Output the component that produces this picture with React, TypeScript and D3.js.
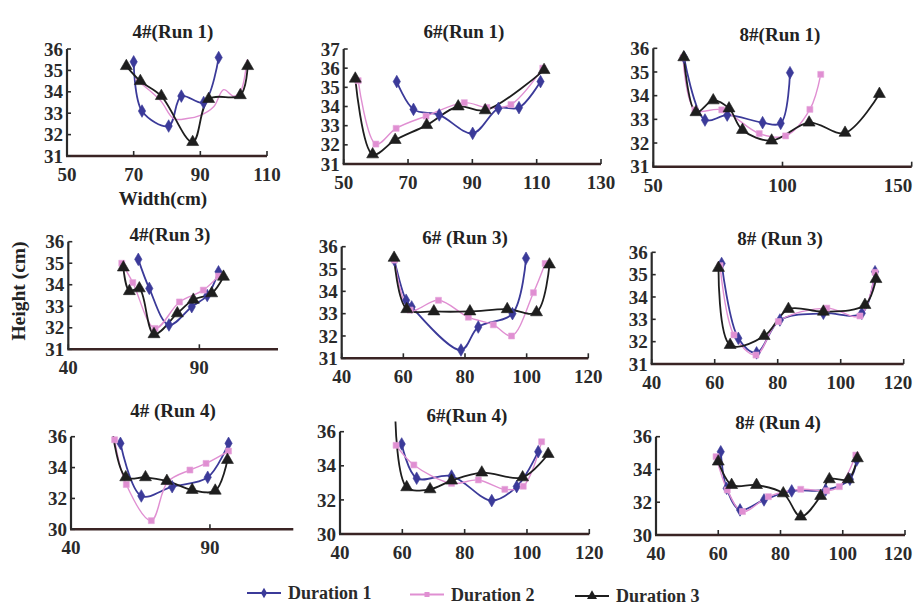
import React from "react";
import * as d3 from "d3";

type Pt = [number, number];

// ---- data: [width (cm), height (cm)] ----
const r1_4_d1: Pt[] = [[70, 35.4], [72.5, 33.1], [80.5, 32.4], [84.3, 33.8], [91, 33.5], [95.5, 35.6]];
const r1_4_d2: Pt[] = [[70.5, 34.6], [78, 33.6], [82, 32.75], [86, 32.75], [90, 32.9], [94, 33.3], [97, 34.1], [100, 33.8], [102, 34.0], [104, 35.5]];
const r1_4_d3: Pt[] = [[67.8, 35.2], [72, 34.5], [78.3, 33.8], [87.7, 31.65], [92.5, 33.66], [102, 33.84], [104.2, 35.2]];

const r1_6_d1: Pt[] = [[66.5, 35.3], [71.7, 33.85], [79.7, 33.56], [90.1, 32.6], [98.1, 33.9], [104.5, 33.94], [111.2, 35.3]];
const r1_6_d2: Pt[] = [[54.5, 35.35], [60, 32.04], [66.3, 32.86], [75.6, 33.5], [87.5, 34.2], [94.5, 33.95], [102, 34.1], [111.9, 36.0]];
const r1_6_d3: Pt[] = [[53.6, 35.45], [59, 31.5], [66, 32.25], [75.8, 33.03], [85.6, 34.0], [94, 33.8], [112.3, 35.9]];

const r1_8_d1: Pt[] = [[61.9, 35.62], [70, 32.97], [78.6, 33.18], [92.3, 32.86], [99.3, 32.83], [102.9, 34.97]];
const r1_8_d2: Pt[] = [[61.5, 35.6], [66.1, 33.4], [76.5, 33.4], [91, 32.4], [101.2, 32.3], [110.6, 33.42], [114.8, 34.9]];
const r1_8_d3: Pt[] = [[61.8, 35.62], [66.5, 33.3], [73.2, 33.8], [79.3, 33.46], [84.5, 32.55], [95.8, 32.1], [110.3, 32.86], [124.2, 32.43], [137.5, 34.07]];

const r3_4_d1: Pt[] = [[66.7, 35.18], [70.9, 33.83], [78.4, 32.13], [87.1, 32.98], [93, 33.5], [97.3, 34.6]];
const r3_4_d2: Pt[] = [[60.4, 35.0], [64.6, 34.1], [73.1, 31.97], [82.4, 33.2], [91.5, 33.75], [97.3, 34.4]];
const r3_4_d3: Pt[] = [[61, 34.8], [63.3, 33.7], [67.1, 33.83], [72.7, 31.7], [81.6, 32.67], [87.7, 33.3], [94.7, 33.6], [99.2, 34.37]];

const r3_6_d1: Pt[] = [[57.1, 35.4], [60.9, 33.6], [62.7, 33.3], [78.7, 31.37], [84.3, 32.4], [95.4, 33.0], [99.8, 35.48]];
const r3_6_d2: Pt[] = [[57.1, 35.4], [62.2, 33.16], [71.4, 33.6], [81.1, 32.84], [89.2, 32.5], [95.1, 32.0], [102.2, 33.94], [106, 35.25]];
const r3_6_d3: Pt[] = [[57, 35.5], [61.1, 33.2], [69.9, 33.1], [81.6, 33.1], [93.7, 33.2], [103.2, 33.06], [107.4, 35.2]];

const r3_8_d1: Pt[] = [[62.2, 35.5], [67.5, 32.15], [73.3, 31.5], [80.7, 32.97], [94.5, 33.27], [106.7, 33.27], [110.9, 35.13]];
const r3_8_d2: Pt[] = [[61.7, 35.4], [66.1, 32.3], [73.1, 31.4], [80.2, 32.9], [95.6, 33.5], [106.1, 33.15], [110.9, 35.1]];
const r3_8_d3: Pt[] = [[61.2, 35.3], [64.9, 31.85], [75.7, 32.25], [83.4, 33.46], [94.5, 33.34], [107.7, 33.64], [111.2, 34.8]];

const r4_4_d1: Pt[] = [[57.8, 35.57], [65.3, 32.16], [76.4, 32.76], [89.2, 33.37], [96.7, 35.57]];
const r4_4_d2: Pt[] = [[55.7, 35.8], [59.9, 32.9], [68.9, 30.56], [74.8, 33.08], [82.8, 33.84], [88.6, 34.27], [96.7, 35.07]];
const r4_4_d3: Pt[] = [[55.2, 36.04], [59.7, 33.37], [66.8, 33.37], [74.5, 33.13], [83.6, 32.55], [91.9, 32.5], [96.3, 34.49]];

const r4_6_d1: Pt[] = [[59.8, 35.28], [64.6, 33.27], [75.8, 33.4], [88.7, 31.96], [96.7, 32.78], [103.6, 34.83]];
const r4_6_d2: Pt[] = [[58, 35.2], [63.7, 34.05], [75.8, 32.97], [84.4, 33.17], [92.9, 32.62], [98.8, 32.8], [104.7, 35.41]];
const r4_6_d3: Pt[] = [[57.8, 36.6], [61.4, 32.74], [68.9, 32.62], [75.8, 33.13], [85.5, 33.6], [98.6, 33.32], [106.8, 34.69]];

const r4_8_d1: Pt[] = [[60.8, 35.08], [62.7, 32.85], [67, 31.53], [74.7, 32.14], [83.6, 32.69], [94.5, 32.75], [102.3, 33.4], [104.5, 34.58]];
const r4_8_d2: Pt[] = [[59.3, 34.78], [62.9, 32.75], [67.8, 31.43], [76.1, 32.34], [86.5, 32.79], [94.8, 32.7], [98.9, 32.95], [104.2, 34.88]];
const r4_8_d3: Pt[] = [[60, 34.48], [64.3, 33.05], [72.3, 33.05], [80.9, 32.54], [86.5, 31.12], [92.9, 32.38], [95.7, 33.4], [101.8, 33.4], [104.7, 34.68]];

const seriesNames = ["Duration 1", "Duration 2", "Duration 3"];
const titles = ["4#(Run 1)", "6#(Run 1)", "8#(Run 1)", "4#(Run 3)", "6# (Run 3)", "8# (Run 3)", "4# (Run 4)", "6#(Run 4)", "8# (Run 4)"];
const yTicks1 = [31, 32, 33, 34, 35, 36];
const yTicks2 = [31, 32, 33, 34, 35, 36, 37];
const yTicks4 = [30, 32, 34, 36];
const xTicksA = [50, 70, 90, 110];
const xTicksB = [50, 70, 90, 110, 130];
const xTicksC = [50, 100, 150];
const xTicksD = [40, 90];
const xTicksE = [40, 60, 80, 100, 120];

// ---- styles / layout ----
const COLORS = ["#3b3a99", "#e08fd2", "#1e1e1e"];
const SYMBOLS = [d3.symbolDiamond, d3.symbolSquare, d3.symbolTriangle];
const SYM_SIZE = [46, 36, 62];
const FONT = "'Liberation Serif', 'Times New Roman', serif";

interface Panel {
  title: string; tx: number; ty: number;
  xd: [number, number]; xr: [number, number];
  yd: [number, number]; yr: [number, number];
  xt: number[]; yt: number[];
  series: Pt[][]; noMarker?: boolean[];
}

const panels: Panel[] = [
  { title: titles[0], tx: 173, ty: 38, xd: [50, 110], xr: [67, 267], yd: [31, 36], yr: [156, 49], xt: xTicksA, yt: yTicks1, series: [r1_4_d1, r1_4_d2, r1_4_d3], noMarker: [false, true, false] },
  { title: titles[1], tx: 464, ty: 38, xd: [50, 130], xr: [343.7, 601], yd: [31, 37], yr: [164, 49], xt: xTicksB, yt: yTicks2, series: [r1_6_d1, r1_6_d2, r1_6_d3] },
  { title: titles[2], tx: 780, ty: 41, xd: [50, 150], xr: [653.3, 911.7], yd: [31, 36], yr: [166.7, 48.3], xt: xTicksC, yt: yTicks1, series: [r1_8_d1, r1_8_d2, r1_8_d3] },
  { title: titles[3], tx: 170, ty: 241, xd: [40, 120], xr: [68.3, 278], yd: [31, 36], yr: [349.3, 241.7], xt: xTicksD, yt: yTicks1, series: [r3_4_d1, r3_4_d2, r3_4_d3] },
  { title: titles[4], tx: 465, ty: 244, xd: [40, 120], xr: [341.7, 588.3], yd: [31, 36], yr: [358.3, 246.7], xt: xTicksE, yt: yTicks1, series: [r3_6_d1, r3_6_d2, r3_6_d3] },
  { title: titles[5], tx: 780, ty: 245, xd: [40, 120], xr: [651.7, 903.7], yd: [31, 36], yr: [364, 252.3], xt: xTicksE, yt: yTicks1, series: [r3_8_d1, r3_8_d2, r3_8_d3] },
  { title: titles[6], tx: 173, ty: 417, xd: [40, 120], xr: [71, 293.3], yd: [30, 36], yr: [529.3, 436.7], xt: xTicksD, yt: yTicks4, series: [r4_4_d1, r4_4_d2, r4_4_d3] },
  { title: titles[7], tx: 467, ty: 422, xd: [40, 120], xr: [340, 589.3], yd: [30, 36], yr: [534, 431.7], xt: xTicksE, yt: yTicks4, series: [r4_6_d1, r4_6_d2, r4_6_d3] },
  { title: titles[8], tx: 778, ty: 429, xd: [40, 120], xr: [656, 905], yd: [30, 36], yr: [535, 436.7], xt: xTicksE, yt: yTicks4, series: [r4_8_d1, r4_8_d2, r4_8_d3] },
];

function PanelView({ p }: { p: Panel }) {
  const x = d3.scaleLinear().domain(p.xd).range(p.xr);
  const y = d3.scaleLinear().domain(p.yd).range(p.yr);
  const line = d3.line<Pt>().x(d => x(d[0])).y(d => y(d[1])).curve(d3.curveCatmullRom.alpha(0.5));
  const x0 = p.xr[0], x1 = p.xr[1], yb = p.yr[0], yt = p.yr[1];
  return (
    <g>
      <text x={p.tx} y={p.ty} textAnchor="middle" fontFamily={FONT} fontWeight="bold" fontSize={19} fill="#222">{p.title}</text>
      {p.series.map((s, i) => (
        <path key={"l" + i} d={line(s) || ""} fill="none" stroke={COLORS[i]} strokeWidth={i === 1 ? 1.4 : 1.8} />
      ))}
      {p.series.map((s, i) =>
        p.noMarker && p.noMarker[i] ? null :
          s.filter(d => d[1] <= p.yd[1]).map((d, j) => (
            <path key={"m" + i + "-" + j}
              d={d3.symbol(SYMBOLS[i], SYM_SIZE[i])() || ""}
              transform={`translate(${x(d[0])},${y(d[1])})`}
              fill={COLORS[i]} stroke={i === 1 ? "#e6a8dc" : COLORS[i]} strokeWidth={0.6} />
          ))
      )}
      {/* axes */}
      <line x1={x0} x2={x0} y1={yb} y2={yt} stroke="#2a2a2a" strokeWidth={2.2} />
      <line x1={x0 - 1} x2={x1} y1={yb} y2={yb} stroke="#3a2424" strokeWidth={2.4} />
      {p.yt.map(v => (
        <g key={"yt" + v}>
          <line x1={x0} x2={x0 + 4} y1={y(v)} y2={y(v)} stroke="#2a2a2a" strokeWidth={1.6} />
          <text x={x0 - 4} y={y(v)} dy="0.35em" textAnchor="end" fontFamily={FONT} fontWeight="bold" fontSize={19} fill="#2a2a2a">{v}</text>
        </g>
      ))}
      {p.xt.map(v => (
        <g key={"xt" + v}>
          <line x1={x(v)} x2={x(v)} y1={yb} y2={yb - 5} stroke="#2a2a2a" strokeWidth={1.6} />
          <text x={Math.min(x(v), 898)} y={yb + 25} textAnchor="middle" fontFamily={FONT} fontWeight="bold" fontSize={19} fill="#2a2a2a">{v}</text>
        </g>
      ))}
    </g>
  );
}

const legendX = [247, 410, 575];

export default function App() {
  return (
    <svg width={917} height={609} style={{ position: "absolute", left: 0, top: 0, background: "#fff" }}>
      <rect width={917} height={609} fill="#fff" />
      {panels.map((p, i) => <PanelView key={i} p={p} />)}
      <text x={163} y={205} textAnchor="middle" fontFamily={FONT} fontWeight="bold" fontSize={19} fill="#222">Width(cm)</text>
      <text transform="translate(25,291) rotate(-90)" textAnchor="middle" fontFamily={FONT} fontWeight="bold" fontSize={19.5} fill="#222">Height (cm)</text>
      {seriesNames.map((n, i) => {
        const lx = legendX[i];
        const ly = 593 + i * 1.5;
        return (
          <g key={n}>
            <line x1={lx} x2={lx + 34} y1={ly} y2={ly} stroke={COLORS[i]} strokeWidth={1.8} />
            <path d={d3.symbol(SYMBOLS[i], SYM_SIZE[i] * 0.7)() || ""} transform={`translate(${lx + 17},${ly})`} fill={COLORS[i]} />
            <text x={lx + 41} y={ly} dy="0.35em" fontFamily={FONT} fontWeight="bold" fontSize={18} fill="#2a2a2a">{n}</text>
          </g>
        );
      })}
    </svg>
  );
}
